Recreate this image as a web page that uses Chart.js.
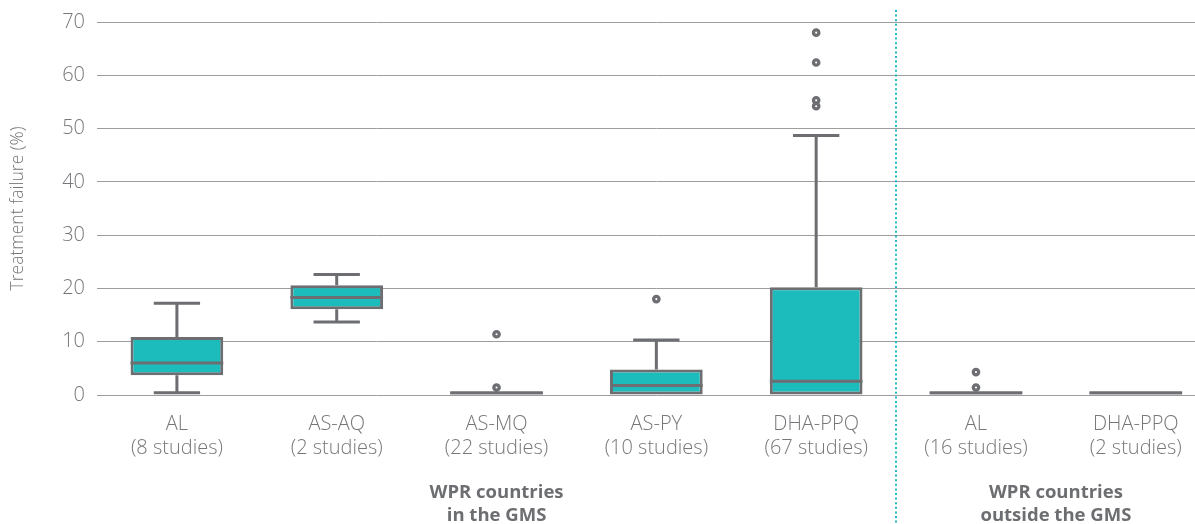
<!DOCTYPE html>
<html>
<head>
<meta charset="utf-8">
<script src="https://cdn.jsdelivr.net/npm/chart.js@4/dist/chart.umd.min.js"></script>
<style>
  html, body { margin: 0; padding: 0; background: #ffffff; overflow: hidden; }
  #wrap { width: 1223px; height: 524px; }
</style>
</head>
<body>
<div id="wrap"><canvas id="c" width="1223" height="524"></canvas></div>
<script>
// Treatment failure by drug combination (box plots)
const drugs = ['AL', 'AS-AQ', 'AS-MQ', 'AS-PY', 'DHA-PPQ', 'AL', 'DHA-PPQ'];
const studies = [8, 2, 22, 10, 67, 16, 2];
const whiskerLow = [0.4, 13.7, 0, 0, 0, 0, 0];
const q1 = [3.7, 16.1, 0, 0, 0, 0, 0];
const median = [6.0, 18.3, 0.4, 1.8, 2.6, 0.4, 0.4];
const q3 = [10.9, 20.6, 0.5, 4.8, 20.2, 0.5, 0.5];
const whiskerHigh = [17.2, 22.6, 0.5, 10.3, 48.7, 0.5, 0.5];
const outliers = [[], [], [11.4, 1.4], [18.0], [68.0, 62.4, 55.3, 54.2], [4.3, 1.4], []];
const groupNames = [['WPR countries', 'in the GMS'], ['WPR countries', 'outside the GMS']];
const groupSpans = [[0, 4], [5, 6]];
const yTicks = [0, 10, 20, 30, 40, 50, 60, 70];

const TEAL = '#1cbcbc';
const GREY = '#6d6e71';
const TEXT = '#76777a';
const FONT = '"Open Sans", Lato, sans-serif';

const labels = drugs.map((d, i) => d + ' (' + studies[i] + ' studies)');

const outlierPoints = outliers.flatMap((vals, i) => vals.map(v => ({ x: labels[i], y: v })));

// Whiskers, caps and medians drawn from the box dataset's own elements
const boxParts = {
  id: 'boxParts',
  afterDatasetDraw(chart, args) {
    if (args.index !== 0) return;
    const ctx = chart.ctx;
    const y = chart.scales.y;
    const meta = args.meta;
    ctx.save();
    ctx.strokeStyle = GREY;
    ctx.lineWidth = 3;
    ctx.lineCap = 'butt';
    meta.data.forEach((bar, i) => {
      const x = bar.x;
      const half = bar.width / 2;
      const capHalf = bar.width / 4;
      const yq1 = y.getPixelForValue(q1[i]);
      const yq3 = y.getPixelForValue(q3[i]);
      const ylo = y.getPixelForValue(whiskerLow[i]);
      const yhi = y.getPixelForValue(whiskerHigh[i]);
      ctx.beginPath();
      if (whiskerHigh[i] > q3[i]) {
        ctx.moveTo(x, yq3); ctx.lineTo(x, yhi);
        ctx.moveTo(x - capHalf, yhi); ctx.lineTo(x + capHalf, yhi);
      }
      if (whiskerLow[i] < q1[i]) {
        ctx.moveTo(x, yq1); ctx.lineTo(x, ylo);
        ctx.moveTo(x - capHalf, ylo); ctx.lineTo(x + capHalf, ylo);
      }
      const ym = y.getPixelForValue(median[i]);
      ctx.moveTo(x - half, ym); ctx.lineTo(x + half, ym);
      ctx.stroke();
    });
    ctx.restore();
  }
};

// Group captions under the axis and the dotted divider between groups
const groupsPlugin = {
  id: 'groups',
  afterDraw(chart) {
    const ctx = chart.ctx;
    const xs = chart.scales.x;
    ctx.save();
    ctx.fillStyle = GREY;
    ctx.font = 'bold 18.5px ' + FONT;
    ctx.textAlign = 'center';
    ctx.textBaseline = 'middle';
    groupSpans.forEach((span, g) => {
      const cx = (xs.getPixelForValue(span[0]) + xs.getPixelForValue(span[1])) / 2;
      groupNames[g].forEach((line, k) => ctx.fillText(line, cx, 493 + k * 23));
    });
    // divider halfway between the last box of one group and the first of the next
    const dx = Math.round((xs.getPixelForValue(groupSpans[0][1]) + xs.getPixelForValue(groupSpans[1][0])) / 2);
    ctx.strokeStyle = '#22b8c2';
    ctx.lineWidth = 2;
    ctx.setLineDash([2, 2.6]);
    ctx.beginPath();
    ctx.moveTo(dx, 10);
    ctx.lineTo(dx, chart.height);
    ctx.stroke();
    ctx.restore();
  }
};

new Chart(document.getElementById('c'), {
  type: 'bar',
  data: {
    labels: labels,
    datasets: [
      {
        label: 'Interquartile range',
        data: q1.map((v, i) => [v, q3[i]]),
        backgroundColor: TEAL,
        borderColor: GREY,
        borderWidth: 3,
        borderSkipped: false,
        categoryPercentage: 0.58,
        barPercentage: 1,
        order: 1
      },
      {
        type: 'line',
        label: 'Outliers',
        data: outlierPoints,
        showLine: false,
        pointStyle: 'circle',
        pointRadius: 2.7,
        pointBorderWidth: 3.3,
        pointBackgroundColor: '#ffffff',
        pointBorderColor: GREY,
        order: 0
      }
    ]
  },
  options: {
    responsive: false,
    devicePixelRatio: 1,
    animation: false,
    events: [],
    layout: { padding: { top: 21, right: 0, bottom: 0, left: 0 } },
    plugins: {
      legend: { display: false },
      tooltip: { enabled: false }
    },
    scales: {
      x: {
        type: 'category',
        offset: true,
        grid: { display: false },
        border: { display: false },
        ticks: {
          color: TEXT,
          font: { family: FONT, size: 20, weight: 300, lineHeight: 1.2 },
          padding: 9,
          maxRotation: 0,
          autoSkip: false,
          callback: (v, i) => [drugs[i], '(' + studies[i] + ' studies)']
        },
        afterFit: s => { s.height = 129; }
      },
      y: {
        min: 0,
        max: 70,
        afterBuildTicks: s => { s.ticks = yTicks.map(v => ({ value: v })); },
        grid: { color: '#9d9d9d', lineWidth: 1, drawTicks: false },
        border: { display: false },
        ticks: {
          color: TEXT,
          font: { family: FONT, size: 20, weight: 300, lineHeight: 1 },
          padding: 12
        },
        title: {
          display: true,
          text: 'Treatment failure (%)',
          color: TEXT,
          font: { family: FONT, size: 17.5, weight: 300 },
          padding: { top: 8, bottom: 0 }
        },
        afterFit: s => { s.width = 97; }
      }
    }
  },
  plugins: [boxParts, groupsPlugin]
});
</script>
</body>
</html>
